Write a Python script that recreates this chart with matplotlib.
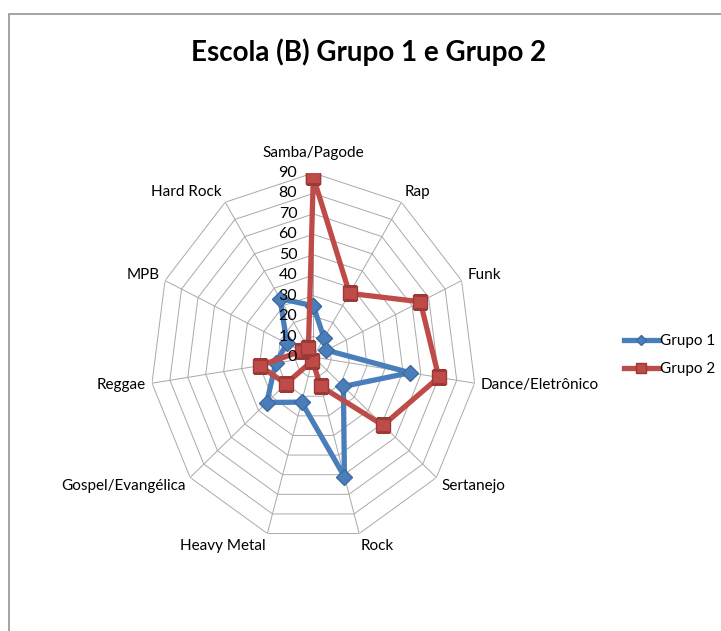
import numpy as np
import matplotlib
matplotlib.use('Agg')
import matplotlib.pyplot as plt
from matplotlib.patches import Rectangle

plt.rcParams['font.family'] = ['Lato', 'DejaVu Sans']

# data
categories = ['Samba/Pagode', 'Rap', 'Funk', 'Dance/Eletrônico', 'Sertanejo', 'Rock',
              'Heavy Metal', 'Gospel/Evangélica', 'Reggae', 'MPB', 'Hard Rock']
grupo1 = [25, 11, 8, 54, 22, 61, 23, 34, 21, 16, 34]
grupo2 = [88, 37, 65, 70, 51, 15, 2, 20, 30, 7, 5]
levels = [0, 10, 20, 30, 40, 50, 60, 70, 80, 90]

W, H = 721, 631
fig = plt.figure(figsize=(W / 100, H / 100), dpi=100)

# chart frame (cut off at right and bottom like the original)
fig.add_artist(Rectangle((8.5 / W, -0.1), 1.2, 1.1 - 13.5 / H, fill=False,
                         edgecolor='#8c8c8c', linewidth=1.1, transform=fig.transFigure))

cx, cy, rx, ry = 313.3, 357, 163, 184
ax = fig.add_axes([(cx - rx) / W, (H - cy - ry) / H, 2 * rx / W, 2 * ry / H], projection='polar')
ax.set_aspect('auto')
ax.set_theta_zero_location('N')
ax.set_theta_direction(-1)
ax.set_ylim(0, 90)
ax.grid(False)
ax.set_xticks([])
ax.set_yticks([])
ax.spines['polar'].set_visible(False)
ax.patch.set_visible(False)

n = len(categories)
angles = np.arange(n) * 2 * np.pi / n
closed = np.append(angles, angles[0])

# polygon grid + spokes
for lv in levels[1:]:
    ax.plot(closed, [lv] * (n + 1), color='#a9a9a9', lw=0.7, zorder=1)
for a in angles:
    ax.plot([a, a], [0, 90], color='#a9a9a9', lw=0.7, zorder=1)

# radial labels along the top spoke (drawn over the series, like Excel)
for lv in levels:
    ax.annotate(str(lv), xy=(0, lv), xytext=(-11.5, 0), textcoords='offset points',
                ha='right', va='center', fontsize=11.5, color='black', zorder=6)

# category labels
for a, name in zip(angles, categories):
    s, c = np.sin(a), np.cos(a)
    if s > 0.1:
        ha = 'left'
    elif s < -0.1:
        ha = 'right'
    else:
        ha = 'center'
    va = 'bottom' if c > 0.99 else 'center'
    ax.annotate(name, xy=(a, 90), xytext=(4.5 * s, 9 * c), textcoords='offset points',
                ha=ha, va=va, fontsize=11, color='black')

l1, = ax.plot(closed, grupo1 + grupo1[:1], color='#4A7EBB', lw=3.8, marker='D', ms=8,
              mfc='#4A7EBB', mec='#3d6aa0', label='Grupo 1', zorder=3)
l2, = ax.plot(closed, grupo2 + grupo2[:1], color='#BE4B48', lw=3.8, marker='s', ms=10.5,
              mfc='#BE4B48', mec='#9a3936', label='Grupo 2', zorder=4)

fig.text(369 / W, 1 - 52 / H, 'Escola (B) Grupo 1 e Grupo 2', ha='center', va='center',
         fontsize=20, fontweight='bold')

fig.legend(handles=[l1, l2], loc='center left', bbox_to_anchor=(610 / W, 1 - 355 / H),
           frameon=False, fontsize=11, handlelength=2.3, handletextpad=0.05,
           labelspacing=0.9, markerscale=0.7)

fig.savefig('out.png', dpi=100)
